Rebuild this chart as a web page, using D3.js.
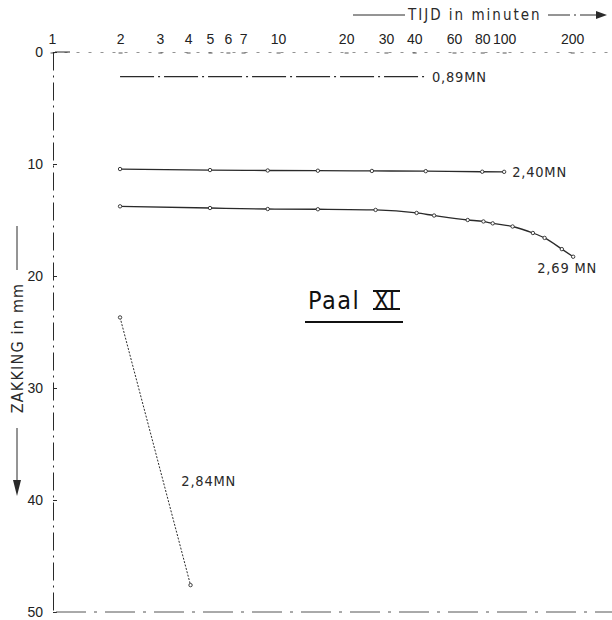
<!DOCTYPE html>
<html>
<head>
<meta charset="utf-8">
<script src="https://cdn.jsdelivr.net/npm/d3@7"></script>
<style>
body { margin: 0; background: #fff; }
svg { font-family: "DejaVu Sans Condensed", "DejaVu Sans", sans-serif; }
.tick text { font-size: 14px; fill: #222; }
</style>
</head>
<body>
<svg id="chart" width="612" height="620"></svg>
<script>
// ticks
const timeTicks = [1, 2, 3, 4, 5, 6, 7, 10, 20, 30, 40, 60, 80, 100, 200];
const zakTicks = [0, 10, 20, 30, 40, 50];

// load steps: time (min) vs settlement (mm)
const t089 = [2, 46];
const s089 = [2.2, 2.2];

const t240 = [2, 5, 9, 15, 26, 45, 80, 100];
const s240 = [10.45, 10.54, 10.58, 10.6, 10.62, 10.64, 10.69, 10.7];

const t269 = [2, 5, 9, 15, 27, 41, 49, 69, 81, 89, 109, 134, 151, 180, 202];
const s269 = [13.78, 13.93, 14.02, 14.04, 14.1, 14.37, 14.6, 15.0, 15.13, 15.3, 15.58, 16.16, 16.6, 17.6, 18.28];

const t284 = [2, 4.1];
const s284 = [23.7, 47.6];

const loadLabels = ['0,89MN', '2,40MN', '2,69 MN', '2,84MN'];

const svg = d3.select('#chart');
const ink = '#2a2a2a';

const x = d3.scaleLog()
    .domain([1, 300])
    .range([52, 612]);

const y = d3.scaleLinear()
    .domain([0, 50])
    .range([52, 612]);

// top time axis
const topAxis = svg.append('g')
    .attr('class', 'x-axis')
    .attr('transform', `translate(0, ${y(0)})`)
    .call(d3.axisTop(x)
        .tickValues(timeTicks)
        .tickFormat(d3.format('d'))
        .tickSize(0)
        .tickPadding(8)
    );
topAxis.select('.domain')
    .attr('stroke', '#777')
    .attr('stroke-width', 0.8)
    .attr('stroke-dasharray', '3 9');
topAxis.selectAll('.tick')
    .append('line')
    .attr('x1', -2).attr('x2', 2)
    .attr('y1', 1).attr('y2', 1)
    .attr('stroke', '#555');
svg.append('line')
    .attr('x1', x(1) + 3).attr('x2', x(1) + 18)
    .attr('y1', y(0)).attr('y2', y(0))
    .attr('stroke', ink).attr('stroke-width', 1);

// left settlement axis
const leftAxis = svg.append('g')
    .attr('class', 'y-axis')
    .attr('transform', `translate(53, 0)`)
    .call(d3.axisLeft(y)
        .tickValues(zakTicks)
        .tickSize(0)
        .tickPadding(10)
    );
leftAxis.select('.domain')
    .attr('stroke', ink)
    .attr('stroke-width', 1)
    .attr('stroke-dasharray', '18 5 2 5');
leftAxis.selectAll('.tick')
    .append('line')
    .attr('x1', 0).attr('x2', 4)
    .attr('stroke', ink);

// bottom border
svg.append('line')
    .attr('x1', 56).attr('x2', 612)
    .attr('y1', y(50)).attr('y2', y(50))
    .attr('stroke', '#555')
    .attr('stroke-width', 1)
    .attr('stroke-dasharray', '30 8 3 8');

// axis titles
const titleTop = svg.append('g').attr('class', 'x-axis-legend');
titleTop.append('line')
    .attr('x1', 353).attr('x2', 405)
    .attr('y1', 15).attr('y2', 15)
    .attr('stroke', ink);
titleTop.append('text')
    .attr('x', 408).attr('y', 20)
    .attr('font-size', 15)
    .attr('letter-spacing', 2)
    .attr('fill', ink)
    .text('TIJD  in minuten');
titleTop.append('line')
    .attr('x1', 548).attr('x2', 598)
    .attr('y1', 15).attr('y2', 15)
    .attr('stroke', ink)
    .attr('stroke-dasharray', '22 4 2 4');
titleTop.append('path')
    .attr('d', 'M596,11 L607,15 L596,19 Z')
    .attr('fill', ink);

const titleLeft = svg.append('g').attr('class', 'y-axis-legend');
titleLeft.append('line')
    .attr('x1', 17).attr('x2', 17)
    .attr('y1', 226).attr('y2', 270)
    .attr('stroke', ink);
titleLeft.append('text')
    .attr('transform', 'translate(23, 348) rotate(-90)')
    .attr('text-anchor', 'middle')
    .attr('font-size', 16)
    .attr('letter-spacing', 1.2)
    .attr('fill', ink)
    .text('ZAKKING in mm');
titleLeft.append('line')
    .attr('x1', 17).attr('x2', 17)
    .attr('y1', 428).attr('y2', 484)
    .attr('stroke', ink);
titleLeft.append('path')
    .attr('d', 'M13,480 L17,496 L21,480 Z')
    .attr('fill', ink);

// series
const series = [
    { t: t089, s: s089, label: loadLabels[0] },
    { t: t240, s: s240, label: loadLabels[1] },
    { t: t269, s: s269, label: loadLabels[2] },
    { t: t284, s: s284, label: loadLabels[3] }
];
const dashes = ['34 4 2 4', null, null, '2 1.5'];
const markers = [false, true, true, true];
const labelOffsets = [[4, 5, 'start'], [8, 5, 'start'], [-6, 16, 'middle'], [0, 0, 'start']];

const line = d3.line()
    .x(d => x(d[0]))
    .y(d => y(d[1]))
    .curve(d3.curveMonotoneX);

series.forEach((ser, i) => {
    const pts = ser.t.map((t, j) => [t, ser.s[j]]);
    svg.append('path')
        .datum(pts)
        .attr('d', line)
        .attr('fill', 'none')
        .attr('stroke', ink)
        .attr('stroke-width', i === 3 ? 1 : 1.3)
        .attr('stroke-dasharray', dashes[i]);

    if (markers[i]) {
        svg.selectAll(null)
            .data(pts)
            .enter()
            .append('circle')
            .attr('cx', d => x(d[0]))
            .attr('cy', d => y(d[1]))
            .attr('r', 1.7)
            .attr('fill', '#fff')
            .attr('stroke', ink)
            .attr('stroke-width', 0.9);
    }

    const last = pts[pts.length - 1];
    let lx = x(last[0]) + labelOffsets[i][0];
    let ly = y(last[1]) + labelOffsets[i][1];
    if (i === 3) {
        // label beside the middle of the steep line
        const first = pts[0];
        lx = (x(first[0]) + x(last[0])) / 2 + 26;
        ly = (y(first[1]) + y(last[1])) / 2 + 35;
    }
    svg.append('text')
        .attr('x', lx)
        .attr('y', ly)
        .attr('text-anchor', labelOffsets[i][2])
        .attr('font-size', 14.5)
        .attr('letter-spacing', 0.8)
        .attr('fill', ink)
        .text(ser.label);
});

// pile title
const paal = svg.append('g').attr('class', 'paal');
paal.append('text')
    .attr('x', 308).attr('y', 309)
    .attr('font-size', 25)
    .attr('letter-spacing', 1.5)
    .attr('fill', '#111')
    .text('Paal');
paal.append('text')
    .attr('x', 374).attr('y', 309)
    .attr('font-size', 24)
    .attr('fill', '#111')
    .text('XI');
paal.append('line')
    .attr('x1', 373).attr('x2', 400)
    .attr('y1', 291).attr('y2', 291)
    .attr('stroke', '#111').attr('stroke-width', 2);
paal.append('line')
    .attr('x1', 373).attr('x2', 400)
    .attr('y1', 309).attr('y2', 309)
    .attr('stroke', '#111').attr('stroke-width', 2);
paal.append('line')
    .attr('x1', 305).attr('x2', 403)
    .attr('y1', 322).attr('y2', 322)
    .attr('stroke', '#111').attr('stroke-width', 2);
</script>
</body>
</html>
